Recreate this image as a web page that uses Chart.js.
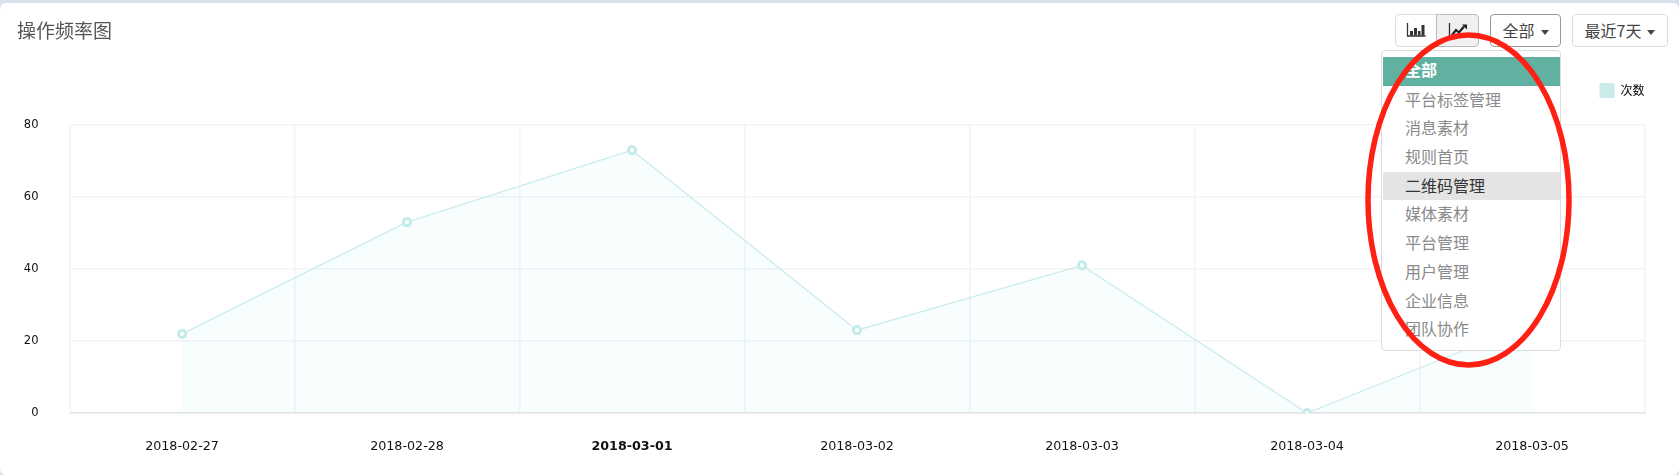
<!DOCTYPE html>
<html lang="zh">
<head>
<meta charset="utf-8">
<title>操作频率图</title>
<script src="https://cdn.jsdelivr.net/npm/chart.js@4"></script>
<style>
  html, body { margin: 0; padding: 0; width: 1679px; height: 475px; overflow: hidden; background: #d8e1ed; }
  body, button { font-family: "Noto Sans CJK SC", "Noto Sans", sans-serif; }
  #card { position: absolute; left: 0; top: 3px; width: 1679px; height: 472px; background: #fff; border-radius: 6px; }
  #chart-box { position: absolute; left: 0; top: 0; width: 1679px; height: 475px; }
  h1 { position: absolute; left: 17px; top: 16px; margin: 0; font-size: 19px; line-height: 28px; font-weight: 400; color: #555; }
  .btn { position: absolute; top: 14px; height: 33px; box-sizing: border-box; border: 1px solid #ddd; border-radius: 4px; background: #fff; color: #444;
         font-size: 16px; line-height: 31px; text-align: center; white-space: nowrap; }
  .btn .caret { display: inline-block; margin-left: 6px; vertical-align: 2px; border: 4px solid transparent; border-top: 5px solid #444; border-bottom: 0; }
  .btn svg { display: block; margin: 8px auto 0; }
  #btn-bar { left: 1395px; width: 42px; border-radius: 4px 0 0 4px; }
  #btn-line { left: 1436px; width: 43px; border-radius: 0 4px 4px 0; background: #f0f0f0; border-color: #bbb; }
  #btn-all { left: 1490px; width: 71px; border-color: #999; }
  #btn-range { left: 1572px; width: 96px; }
  #menu { position: absolute; left: 1381px; top: 50px; width: 180px; height: 301px; box-sizing: border-box; border: 1px solid #ddd; border-radius: 4px; background: #fff; padding: 6px 0 0 1px; }
  #menu div { height: 28.7px; line-height: 26px; padding-left: 22px; font-size: 16px; color: #8a8a8a; }
  #menu div.on { background: #60b1a1; color: #fff; font-weight: 700; line-height: 25px; }
  #menu div.hover { background: #e4e4e4; color: #333; }
  #ring { position: absolute; left: 0; top: 0; pointer-events: none; }
</style>
</head>
<body>
<div id="card"></div>
<div id="chart-box"><canvas id="chart-freq" width="1679" height="475"></canvas></div>
<h1>操作频率图</h1>
<div class="btn" id="btn-bar">
  <svg width="20" height="14" viewBox="0 0 20 14"><path d="M1.5 0v13h18" fill="none" stroke="#333" stroke-width="1.3"/><path d="M4 8h3v4.5H4zM8 5h3v7.5H8zM12 8h2.5v4.5H12zM15.5 2h3v10.5h-3z" fill="#333"/></svg>
</div>
<div class="btn" id="btn-line">
  <svg width="20" height="14" viewBox="0 0 20 14"><path d="M1.5 0v13h18" fill="none" stroke="#333" stroke-width="1.3"/><path d="M4 12l4-5 3 2.5 5-6" fill="none" stroke="#222" stroke-width="2.2"/><path d="M14 1.5h5v5z" fill="#222"/></svg>
</div>
<div class="btn" id="btn-all">全部<span class="caret"></span></div>
<div class="btn" id="btn-range">最近7天<span class="caret"></span></div>
<div id="menu"></div>
<svg id="ring" width="1679" height="475"><ellipse cx="1468.5" cy="200" rx="100.5" ry="165" fill="none" stroke="#ff2014" stroke-width="5.5"/></svg>

<script>
// datos
const categories = ['2018-02-27', '2018-02-28', '2018-03-01', '2018-03-02', '2018-03-03', '2018-03-04', '2018-03-05'];
const counts = [22, 53, 73, 23, 41, 0, 25];
const seriesName = '次数';
const menuItems = ['全部', '平台标签管理', '消息素材', '规则首页', '二维码管理', '媒体素材', '平台管理', '用户管理', '企业信息', '团队协作'];
const selectedItem = '全部';
const hoveredItem = '二维码管理';
const boldDate = '2018-03-01';

const menu = document.getElementById('menu');
menuItems.forEach(name => {
  const row = document.createElement('div');
  row.textContent = name;
  if (name === selectedItem) row.className = 'on';
  if (name === hoveredItem) row.className = 'hover';
  menu.appendChild(row);
});

const fontFamily = '"DejaVu Sans", sans-serif';

// la leyenda queda más arriba y más a la derecha que el área del gráfico
const legendNudge = {
  id: 'legendNudge',
  afterLayout(chart) {
    chart.legend.top -= 17;
    chart.legend.right += 8;
  }
};

new Chart(document.getElementById('chart-freq').getContext('2d'), {
  type: 'line',
  plugins: [legendNudge],
  data: {
    labels: categories,
    datasets: [{
      label: seriesName,
      data: counts,
      borderColor: '#cbecec',
      backgroundColor: 'rgba(205,240,250,0.14)',
      borderWidth: 1.3,
      fill: 'origin',
      tension: 0,
      pointRadius: 3.6,
      pointBorderWidth: 3,
      pointBorderColor: '#c5eaea',
      pointBackgroundColor: '#fff'
    }]
  },
  options: {
    responsive: false,
    animation: false,
    layout: { padding: { top: 92, right: 34.5, bottom: 12, left: 0 } },
    plugins: {
      tooltip: { enabled: false },
      legend: {
        position: 'top',
        align: 'end',
        labels: {
          color: '#333',
          boxWidth: 15,
          boxHeight: 15,
          padding: 8,
          font: { family: '"Noto Sans CJK SC", sans-serif', size: 12 },
          generateLabels: () => [{ text: seriesName, fillStyle: '#cbeaea', strokeStyle: '#cbeaea', lineWidth: 0, datasetIndex: 0 }]
        }
      }
    },
    scales: {
      x: {
        offset: true,
        afterFit: axis => { axis.height = 50; },
        grid: { color: '#f2f4f5', lineWidth: 1.5, offset: true, drawTicks: false },
        border: { color: '#e0e2e4', width: 1.5 },
        ticks: {
          color: '#111',
          padding: 26,
          maxRotation: 0,
          autoSkip: false,
          font: ctx => ({ family: fontFamily, size: 12.7, weight: categories[ctx.index] === boldDate ? 'bold' : 'normal' })
        }
      },
      y: {
        min: 0,
        max: 80,
        afterFit: axis => { axis.width = 69.5; },
        grid: { color: '#f2f4f5', lineWidth: 1.5, drawTicks: false },
        border: { color: '#f2f4f5', width: 1.5 },
        ticks: { color: '#111', stepSize: 20, padding: 31, font: { family: fontFamily, size: 11.5 } }
      }
    }
  }
});
</script>
</body>
</html>
